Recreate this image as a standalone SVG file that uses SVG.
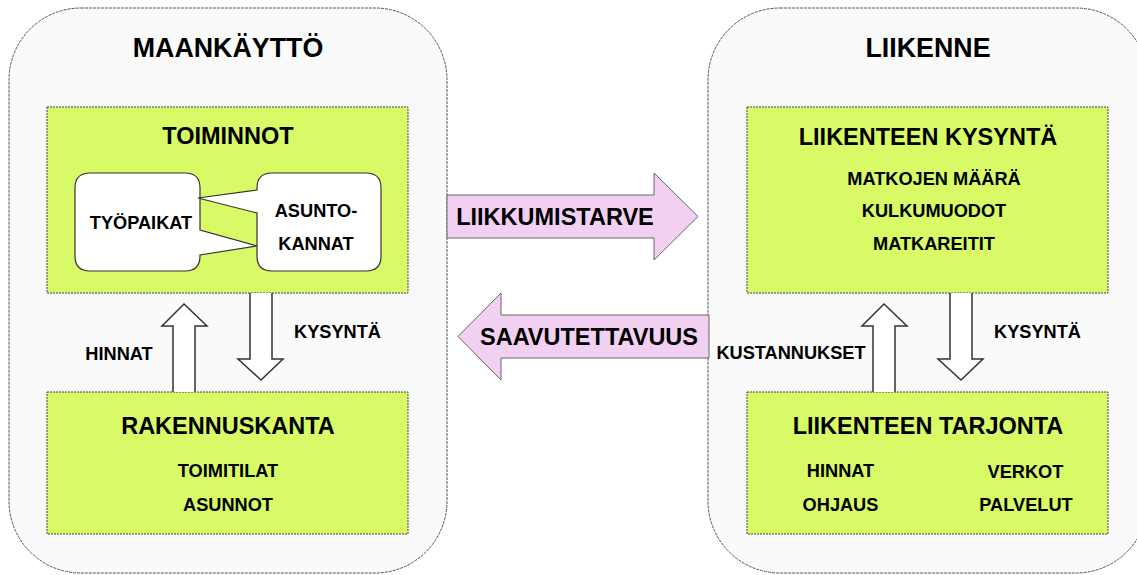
<svg xmlns="http://www.w3.org/2000/svg" width="1137" height="575" viewBox="0 0 1137 575">
<style>
text{font-family:"Liberation Sans",Arial,sans-serif;font-weight:bold;fill:#000;text-anchor:middle}
.cont{fill:#fafafa;stroke:#555;stroke-width:1;stroke-dasharray:3,1}
.box{fill:#d7fa66;stroke:#444;stroke-width:1;stroke-dasharray:2,1}
.call{fill:#fff;stroke:#333;stroke-width:1.2}
.warr{fill:#fff;stroke:#333;stroke-width:1.5;stroke-linejoin:miter}
.parr{fill:#f2d0f2;stroke:#666;stroke-width:1}
.t1{font-size:26.8px}
.t2{font-size:23.5px}
.t3{font-size:18.2px}
</style>
<rect width="1137" height="575" fill="#fff"/>
<g id="maankaytto">
<rect class="cont" x="9" y="8" width="438" height="565" rx="72" ry="72"/>
<text class="t1" x="228" y="57">MAANKÄYTTÖ</text>
</g>
<g id="liikenne">
<rect class="cont" x="708" y="8" width="440" height="565" rx="72" ry="72"/>
<text class="t1" x="928" y="57">LIIKENNE</text>
</g>
<g id="toiminnot">
<rect class="box" x="47" y="107" width="361" height="186"/>
<text class="t2" x="228" y="144">TOIMINNOT</text>
</g>
<g id="tyopaikat">
<path class="call" d="M90,173 H185 Q200,173 200,188 V230 L257,246 L200,255 V256 Q200,271 185,271 H90 Q75,271 75,256 V188 Q75,173 90,173 Z"/>
<text class="t3" x="141" y="229">TYÖPAIKAT</text>
</g>
<g id="asuntokannat">
<path class="call" d="M272,173 H366 Q381,173 381,188 V256 Q381,271 366,271 H272 Q257,271 257,256 V213 L198,198 L257,190 V188 Q257,173 272,173 Z"/>
<text class="t3" x="316" y="217">ASUNTO-</text>
<text class="t3" x="316" y="250">KANNAT</text>
</g>
<g id="rakennuskanta">
<rect class="box" x="47" y="392" width="361" height="142"/>
<text class="t2" x="228" y="434">RAKENNUSKANTA</text>
<text class="t3" x="228" y="477">TOIMITILAT</text>
<text class="t3" x="228" y="511">ASUNNOT</text>
</g>
<g id="liikenteen-kysynta">
<rect class="box" x="747" y="107" width="361" height="186"/>
<text class="t2" x="928" y="145">LIIKENTEEN KYSYNTÄ</text>
<text class="t3" x="934" y="185">MATKOJEN MÄÄRÄ</text>
<text class="t3" x="934" y="217">KULKUMUODOT</text>
<text class="t3" x="934" y="250">MATKAREITIT</text>
</g>
<g id="liikenteen-tarjonta">
<rect class="box" x="747" y="392" width="361" height="142"/>
<text class="t2" x="928" y="434">LIIKENTEEN TARJONTA</text>
<text class="t3" x="840.5" y="477">HINNAT</text>
<text class="t3" x="840.5" y="511">OHJAUS</text>
<text class="t3" x="1025.5" y="478">VERKOT</text>
<text class="t3" x="1026" y="511">PALVELUT</text>
</g>
<g id="connectors">
<path class="warr" d="M173,392 V326 H162 L184,304 L207,326 H195 V392"/>
<path class="warr" d="M250,293 V359 H238 L261,380 L283,359 H272 V293"/>
<path class="warr" d="M873,392 V326 H862 L884,304 L907,326 H895 V392"/>
<path class="warr" d="M950,293 V359 H938 L961,380 L983,359 H972 V293"/>
<path class="parr" d="M447,195 H654 V173 L698,216.5 L654,260 V238 H447 Z"/>
<path class="parr" d="M709,315 H501 V293 L458,336.5 L501,380 V358 H709 Z"/>
<text class="t3" x="119" y="360">HINNAT</text>
<text class="t3" x="337.5" y="338">KYSYNTÄ</text>
<text class="t3" x="791" y="359">KUSTANNUKSET</text>
<text class="t3" x="1037.5" y="338">KYSYNTÄ</text>
<text class="t2" x="555" y="225">LIIKKUMISTARVE</text>
<text class="t2" x="589" y="345">SAAVUTETTAVUUS</text>
</g>
</svg>
